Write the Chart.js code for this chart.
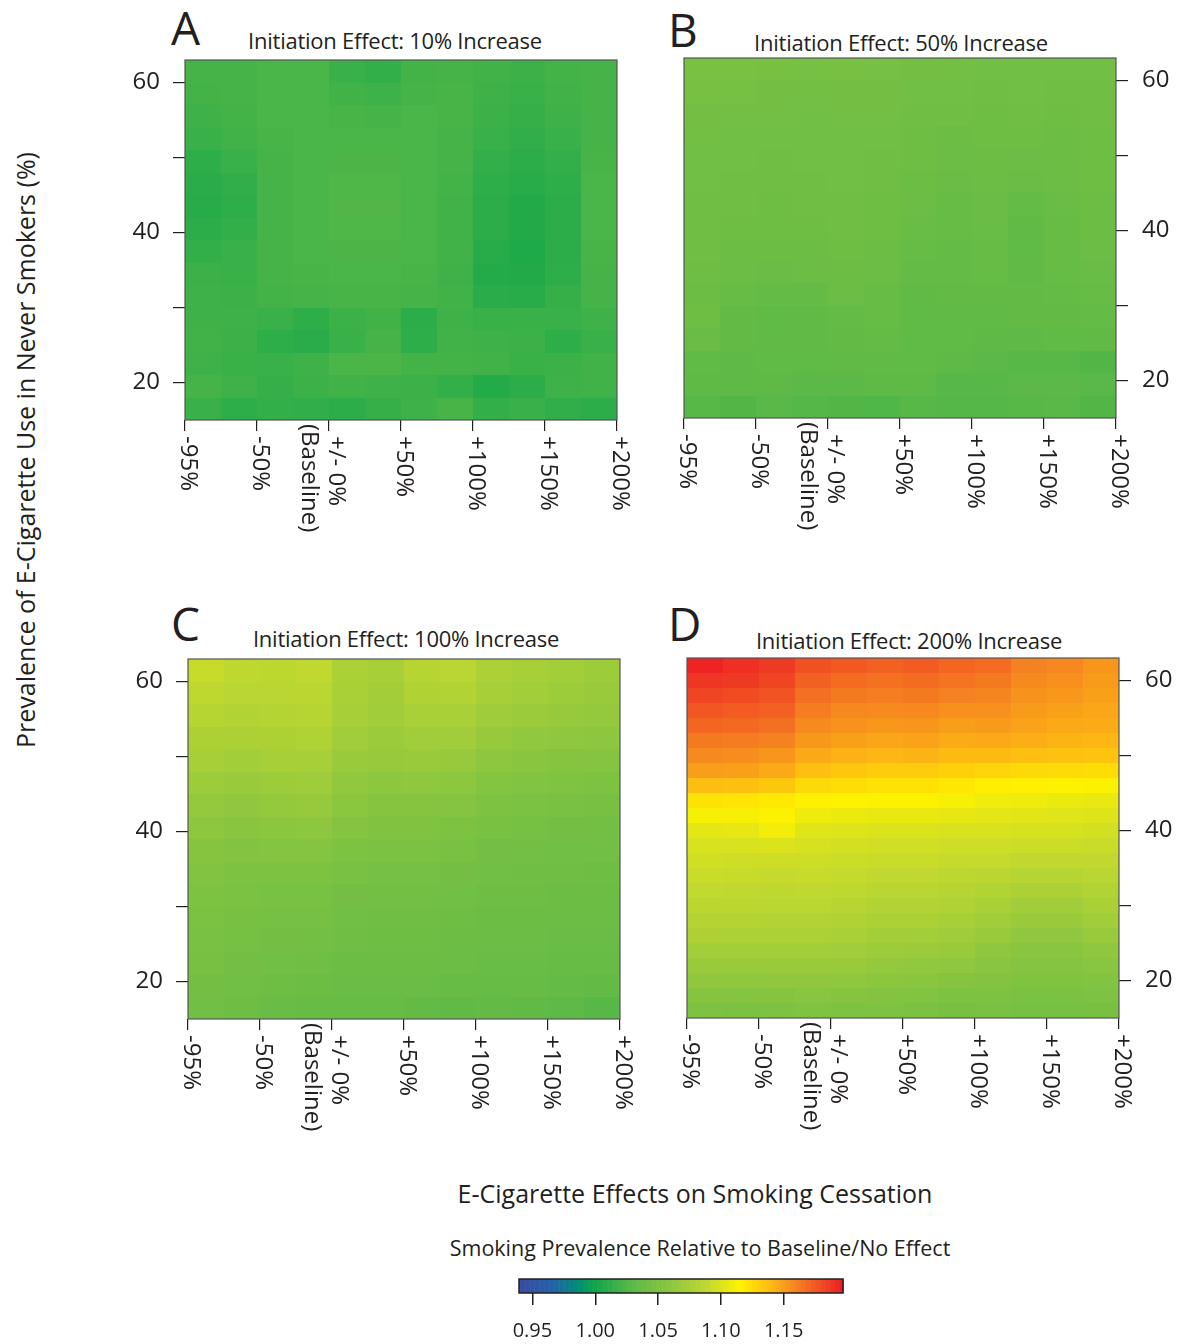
<!DOCTYPE html>
<html>
<head>
<meta charset="utf-8">
<script src="https://cdn.jsdelivr.net/npm/chart.js@4.4.0/dist/chart.umd.min.js"></script>
<style>
  body { margin: 0; background: #fff; }
  #page { position: relative; width: 1194px; height: 1344px; overflow: hidden; font-family: 'Open Sans', sans-serif; color: #231f20; }
  canvas { position: absolute; }
  .txt { position: absolute; white-space: nowrap; line-height: 1; }
  .letter { font-size: 46px; }
  .ptitle { font-size: 22px; letter-spacing: -0.25px; transform: translateX(-50%); }
</style>
</head>
<body>
<div id="page">
  <div class="txt" style="left:25px; top:450px; font-size:25px; transform: translate(-50%,-50%) rotate(-90deg);">Prevalence of E-Cigarette Use in Never Smokers (%)</div>

  <div class="txt letter" style="left:171px; top:4px;">A</div>
  <div class="txt letter" style="left:668px; top:6px;">B</div>
  <div class="txt letter" style="left:171px; top:600px;">C</div>
  <div class="txt letter" style="left:668px; top:600px;">D</div>

  <div class="txt ptitle" style="left:395px; top:29px;">Initiation Effect: 10% Increase</div>
  <div class="txt ptitle" style="left:901px; top:31px;">Initiation Effect: 50% Increase</div>
  <div class="txt ptitle" style="left:406px; top:627px;">Initiation Effect: 100% Increase</div>
  <div class="txt ptitle" style="left:909px; top:629px;">Initiation Effect: 200% Increase</div>

  <div class="txt" style="left:695px; top:1181px; font-size:25px; transform: translateX(-50%);">E-Cigarette Effects on Smoking Cessation</div>
  <div class="txt" style="left:700px; top:1237px; font-size:21.5px; transform: translateX(-50%);">Smoking Prevalence Relative to Baseline/No Effect</div>

  <canvas id="panelA" width="530" height="560" style="left:110px; top:0px;"></canvas>
  <canvas id="panelB" width="554" height="560" style="left:640px; top:0px;"></canvas>
  <canvas id="panelC" width="530" height="560" style="left:113px; top:600px;"></canvas>
  <canvas id="panelD" width="554" height="560" style="left:640px; top:600px;"></canvas>
  <canvas id="colorbar" width="400" height="94" style="left:480px; top:1250px;"></canvas>
</div>

<script>
// axis labels
const cessationLabels = ['-95%', '-50%', ['+/- 0%', '(Baseline)'], '+50%', '+100%', '+150%', '+200%'];
const prevalenceTicks = [20, 30, 40, 50, 60];
const prevalenceLabelled = [20, 40, 60];
const colorbarTicks = [0.95, 1.00, 1.05, 1.10, 1.15];

// cell centres (x = position on the cessation axis, y = prevalence %)
const cellX = [0.25, 0.75, 1.25, 1.75, 2.25, 2.75, 3.25, 3.75, 4.25, 4.75, 5.25, 5.75];
const cellY16 = [61.5, 58.5, 55.5, 52.5, 49.5, 46.5, 43.5, 40.5, 37.5, 34.5, 31.5, 28.5, 25.5, 22.5, 19.5, 16.5];
const cellY24 = [62, 60, 58, 56, 54, 52, 50, 48, 46, 44, 42, 40, 38, 36, 34, 32, 30, 28, 26, 24, 22, 20, 18, 16];

// relative smoking prevalence, rows top -> bottom
const effect10 = [
  [1.021, 1.021, 1.023, 1.023, 1.016, 1.014, 1.020, 1.021, 1.019, 1.017, 1.020, 1.021],
  [1.020, 1.021, 1.023, 1.023, 1.019, 1.018, 1.021, 1.022, 1.018, 1.016, 1.019, 1.021],
  [1.018, 1.020, 1.023, 1.023, 1.022, 1.021, 1.023, 1.022, 1.017, 1.015, 1.018, 1.021],
  [1.016, 1.019, 1.022, 1.023, 1.023, 1.023, 1.023, 1.021, 1.016, 1.013, 1.016, 1.021],
  [1.012, 1.016, 1.021, 1.023, 1.024, 1.024, 1.023, 1.021, 1.014, 1.011, 1.014, 1.022],
  [1.010, 1.013, 1.021, 1.023, 1.025, 1.025, 1.023, 1.020, 1.012, 1.009, 1.012, 1.023],
  [1.009, 1.012, 1.021, 1.023, 1.026, 1.026, 1.023, 1.019, 1.011, 1.007, 1.011, 1.023],
  [1.011, 1.014, 1.021, 1.023, 1.025, 1.025, 1.023, 1.019, 1.011, 1.007, 1.011, 1.023],
  [1.014, 1.016, 1.021, 1.023, 1.024, 1.024, 1.023, 1.019, 1.009, 1.006, 1.011, 1.022],
  [1.017, 1.016, 1.021, 1.022, 1.023, 1.023, 1.022, 1.018, 1.008, 1.007, 1.012, 1.021],
  [1.018, 1.017, 1.020, 1.021, 1.022, 1.022, 1.021, 1.019, 1.010, 1.009, 1.015, 1.021],
  [1.018, 1.018, 1.016, 1.012, 1.017, 1.019, 1.011, 1.018, 1.016, 1.016, 1.016, 1.018],
  [1.019, 1.017, 1.012, 1.010, 1.016, 1.021, 1.012, 1.019, 1.018, 1.017, 1.012, 1.016],
  [1.018, 1.016, 1.016, 1.018, 1.023, 1.024, 1.020, 1.020, 1.019, 1.016, 1.017, 1.019],
  [1.021, 1.018, 1.015, 1.017, 1.019, 1.018, 1.017, 1.014, 1.008, 1.011, 1.018, 1.019],
  [1.016, 1.012, 1.014, 1.013, 1.011, 1.015, 1.018, 1.022, 1.014, 1.016, 1.013, 1.011]
];

const effect50 = [
  [1.048, 1.048, 1.047, 1.046, 1.047, 1.046, 1.045, 1.044, 1.043, 1.043, 1.043, 1.043],
  [1.047, 1.046, 1.045, 1.044, 1.045, 1.045, 1.043, 1.043, 1.042, 1.043, 1.042, 1.042],
  [1.045, 1.044, 1.044, 1.043, 1.044, 1.044, 1.042, 1.042, 1.041, 1.042, 1.041, 1.042],
  [1.044, 1.043, 1.043, 1.043, 1.043, 1.043, 1.041, 1.040, 1.041, 1.041, 1.040, 1.041],
  [1.043, 1.043, 1.042, 1.043, 1.043, 1.042, 1.041, 1.039, 1.040, 1.039, 1.040, 1.041],
  [1.043, 1.042, 1.042, 1.042, 1.043, 1.042, 1.040, 1.038, 1.039, 1.038, 1.039, 1.041],
  [1.042, 1.042, 1.041, 1.042, 1.042, 1.041, 1.039, 1.037, 1.038, 1.035, 1.038, 1.040],
  [1.042, 1.041, 1.041, 1.041, 1.042, 1.041, 1.038, 1.036, 1.038, 1.033, 1.037, 1.040],
  [1.042, 1.040, 1.040, 1.040, 1.041, 1.040, 1.036, 1.035, 1.037, 1.032, 1.036, 1.039],
  [1.041, 1.039, 1.038, 1.039, 1.040, 1.039, 1.035, 1.035, 1.036, 1.033, 1.036, 1.038],
  [1.040, 1.037, 1.035, 1.035, 1.039, 1.037, 1.033, 1.034, 1.034, 1.034, 1.035, 1.037],
  [1.041, 1.034, 1.032, 1.033, 1.035, 1.036, 1.032, 1.033, 1.033, 1.034, 1.034, 1.035],
  [1.038, 1.034, 1.033, 1.033, 1.034, 1.035, 1.032, 1.032, 1.031, 1.031, 1.032, 1.033],
  [1.032, 1.031, 1.032, 1.032, 1.033, 1.033, 1.032, 1.031, 1.030, 1.028, 1.028, 1.026],
  [1.031, 1.031, 1.031, 1.030, 1.030, 1.031, 1.031, 1.028, 1.028, 1.030, 1.030, 1.029],
  [1.028, 1.026, 1.029, 1.027, 1.026, 1.025, 1.028, 1.027, 1.027, 1.028, 1.029, 1.026]
];

const effect100 = [
  [1.092, 1.088, 1.087, 1.089, 1.077, 1.074, 1.083, 1.085, 1.077, 1.074, 1.072, 1.069],
  [1.088, 1.085, 1.085, 1.086, 1.076, 1.073, 1.080, 1.081, 1.074, 1.072, 1.069, 1.067],
  [1.083, 1.081, 1.082, 1.083, 1.074, 1.071, 1.076, 1.076, 1.070, 1.068, 1.065, 1.064],
  [1.078, 1.077, 1.078, 1.079, 1.071, 1.068, 1.071, 1.071, 1.065, 1.063, 1.061, 1.060],
  [1.074, 1.072, 1.074, 1.074, 1.067, 1.065, 1.066, 1.065, 1.060, 1.058, 1.056, 1.055],
  [1.069, 1.067, 1.069, 1.070, 1.063, 1.060, 1.061, 1.060, 1.055, 1.053, 1.052, 1.051],
  [1.064, 1.062, 1.064, 1.065, 1.059, 1.056, 1.056, 1.055, 1.051, 1.049, 1.048, 1.047],
  [1.060, 1.058, 1.059, 1.060, 1.055, 1.052, 1.052, 1.051, 1.048, 1.046, 1.045, 1.044],
  [1.056, 1.054, 1.055, 1.055, 1.051, 1.049, 1.049, 1.048, 1.045, 1.044, 1.043, 1.043],
  [1.053, 1.051, 1.051, 1.051, 1.048, 1.046, 1.046, 1.045, 1.043, 1.042, 1.042, 1.041],
  [1.051, 1.049, 1.048, 1.048, 1.045, 1.044, 1.044, 1.043, 1.041, 1.041, 1.040, 1.040],
  [1.049, 1.047, 1.046, 1.046, 1.043, 1.042, 1.042, 1.041, 1.040, 1.040, 1.039, 1.039],
  [1.048, 1.046, 1.045, 1.044, 1.042, 1.041, 1.041, 1.040, 1.039, 1.039, 1.038, 1.038],
  [1.047, 1.045, 1.043, 1.042, 1.040, 1.040, 1.040, 1.039, 1.038, 1.038, 1.037, 1.036],
  [1.045, 1.043, 1.041, 1.040, 1.038, 1.038, 1.038, 1.037, 1.036, 1.036, 1.035, 1.034],
  [1.043, 1.041, 1.038, 1.037, 1.036, 1.036, 1.034, 1.033, 1.034, 1.033, 1.031, 1.028]
];

const effect200 = [
  [1.194, 1.190, 1.186, 1.178, 1.175, 1.172, 1.174, 1.170, 1.168, 1.160, 1.158, 1.153],
  [1.188, 1.186, 1.182, 1.172, 1.168, 1.166, 1.168, 1.165, 1.163, 1.157, 1.155, 1.151],
  [1.182, 1.180, 1.177, 1.167, 1.163, 1.161, 1.163, 1.160, 1.159, 1.154, 1.152, 1.149],
  [1.176, 1.174, 1.172, 1.162, 1.158, 1.157, 1.158, 1.155, 1.155, 1.151, 1.149, 1.147],
  [1.170, 1.169, 1.167, 1.157, 1.154, 1.152, 1.153, 1.150, 1.151, 1.148, 1.146, 1.145],
  [1.163, 1.162, 1.160, 1.152, 1.149, 1.147, 1.148, 1.145, 1.146, 1.144, 1.142, 1.141],
  [1.157, 1.156, 1.153, 1.146, 1.143, 1.141, 1.142, 1.139, 1.139, 1.137, 1.136, 1.135],
  [1.150, 1.149, 1.146, 1.137, 1.134, 1.132, 1.132, 1.130, 1.128, 1.126, 1.125, 1.124],
  [1.138, 1.137, 1.134, 1.126, 1.124, 1.122, 1.122, 1.120, 1.117, 1.116, 1.115, 1.114],
  [1.122, 1.121, 1.119, 1.116, 1.115, 1.114, 1.114, 1.112, 1.109, 1.108, 1.107, 1.106],
  [1.112, 1.112, 1.114, 1.108, 1.107, 1.106, 1.106, 1.105, 1.104, 1.103, 1.102, 1.101],
  [1.104, 1.105, 1.110, 1.102, 1.101, 1.100, 1.100, 1.099, 1.099, 1.098, 1.098, 1.097],
  [1.099, 1.099, 1.100, 1.098, 1.097, 1.096, 1.096, 1.095, 1.095, 1.094, 1.094, 1.093],
  [1.096, 1.095, 1.095, 1.095, 1.094, 1.093, 1.093, 1.091, 1.091, 1.089, 1.089, 1.089],
  [1.093, 1.092, 1.091, 1.092, 1.091, 1.089, 1.089, 1.087, 1.086, 1.083, 1.083, 1.085],
  [1.090, 1.089, 1.088, 1.089, 1.088, 1.085, 1.085, 1.083, 1.081, 1.077, 1.077, 1.081],
  [1.086, 1.086, 1.085, 1.085, 1.084, 1.081, 1.081, 1.079, 1.076, 1.071, 1.071, 1.076],
  [1.082, 1.082, 1.081, 1.081, 1.080, 1.077, 1.077, 1.074, 1.071, 1.066, 1.066, 1.071],
  [1.078, 1.077, 1.077, 1.077, 1.076, 1.073, 1.072, 1.070, 1.066, 1.062, 1.062, 1.066],
  [1.072, 1.072, 1.072, 1.072, 1.071, 1.069, 1.068, 1.066, 1.062, 1.058, 1.058, 1.061],
  [1.067, 1.066, 1.067, 1.067, 1.066, 1.064, 1.063, 1.061, 1.058, 1.055, 1.055, 1.057],
  [1.062, 1.061, 1.062, 1.062, 1.061, 1.059, 1.058, 1.056, 1.054, 1.052, 1.052, 1.053],
  [1.056, 1.055, 1.056, 1.057, 1.056, 1.054, 1.053, 1.051, 1.051, 1.049, 1.049, 1.050],
  [1.050, 1.049, 1.050, 1.052, 1.051, 1.050, 1.049, 1.047, 1.048, 1.046, 1.046, 1.047]
];

// colour scale of the legend bar
const palette = [
  [0.940, [59, 74, 160]],
  [0.965, [36, 97, 173]],
  [0.985, [0, 140, 120]],
  [1.000, [16, 166, 74]],
  [1.030, [92, 185, 71]],
  [1.060, [141, 198, 63]],
  [1.090, [194, 217, 47]],
  [1.115, [255, 242, 0]],
  [1.140, [253, 185, 19]],
  [1.160, [245, 130, 32]],
  [1.197, [237, 28, 36]]
];

function colorFor(v) {
  if (v <= palette[0][0]) return 'rgb(' + palette[0][1].join(',') + ')';
  for (let i = 1; i < palette.length; i++) {
    if (v <= palette[i][0]) {
      const [v0, c0] = palette[i - 1], [v1, c1] = palette[i];
      const t = (v - v0) / (v1 - v0);
      const c = c0.map((a, k) => Math.round(a + (c1[k] - a) * t));
      return 'rgb(' + c.join(',') + ')';
    }
  }
  return 'rgb(' + palette[palette.length - 1][1].join(',') + ')';
}

Chart.defaults.font.family = "'Open Sans', sans-serif";
Chart.defaults.color = '#231f20';

const ink = '#231f20';

// paints every data point as a coloured cell
const heatCells = {
  id: 'heatCells',
  beforeDatasetsDraw(chart) {
    const { ctx, chartArea, scales: { x, y } } = chart;
    ctx.save();
    ctx.beginPath();
    ctx.rect(chartArea.left, chartArea.top, chartArea.width, chartArea.height);
    ctx.clip();
    chart.data.datasets[0].data.forEach(p => {
      const x0 = Math.round(x.getPixelForValue(p.x - p.w / 2));
      const x1 = Math.round(x.getPixelForValue(p.x + p.w / 2));
      const y0 = Math.round(y.getPixelForValue(p.y + p.h / 2));
      const y1 = Math.round(y.getPixelForValue(p.y - p.h / 2));
      ctx.fillStyle = colorFor(p.v);
      ctx.fillRect(x0, y0, x1 - x0, y1 - y0);
    });
    ctx.restore();
  }
};

// frame round the plot and the rotated cessation labels
const frameAndLabels = {
  id: 'frameAndLabels',
  afterDraw(chart) {
    const { ctx, chartArea } = chart;
    const xs = chart.scales.x;
    ctx.save();
    ctx.strokeStyle = '#555555';
    ctx.lineWidth = 1.2;
    ctx.strokeRect(chartArea.left, chartArea.top, chartArea.width, chartArea.height);

    ctx.fillStyle = ink;
    ctx.font = "24px 'Open Sans', sans-serif";
    ctx.textAlign = 'left';
    ctx.textBaseline = 'middle';
    cessationLabels.forEach((lab, i) => {
      const px = xs.getPixelForValue(i);
      const lines = Array.isArray(lab) ? lab : [lab];
      lines.forEach((t, k) => {
        ctx.save();
        const dx = lines.length > 1 ? 7 - k * 27 : 3;
        const dy = lines.length > 1 ? 16 - k * 12 : 16;
        ctx.translate(px + dx, xs.top + dy);
        ctx.rotate(Math.PI / 2);
        ctx.fillText(t, 0, 0);
        ctx.restore();
      });
    });
    ctx.restore();
  }
};

function makePanel(id, grid, rows, side, pad) {
  const w = cellX[1] - cellX[0];
  const h = Math.abs(rows[0] - rows[1]);
  const cells = [];
  grid.forEach((row, r) => row.forEach((v, c) => cells.push({ x: cellX[c], y: rows[r], v: v, w: w, h: h })));

  return new Chart(document.getElementById(id), {
    type: 'scatter',
    data: { datasets: [{ data: cells, pointRadius: 0, pointHoverRadius: 0 }] },
    options: {
      responsive: false,
      animation: false,
      events: [],
      layout: { padding: pad },
      plugins: { legend: { display: false }, tooltip: { enabled: false } },
      scales: {
        x: {
          type: 'linear', min: 0, max: cessationLabels.length - 1,
          afterBuildTicks: s => { s.ticks = cessationLabels.map((_, i) => ({ value: i })); },
          afterFit: s => { s.height = 100; },
          ticks: { display: false },
          grid: { drawOnChartArea: false, drawTicks: true, tickLength: 11, color: ink, tickColor: ink, lineWidth: 1.2 },
          border: { display: false }
        },
        y: {
          type: 'linear', position: side, min: 15, max: 63,
          afterBuildTicks: s => { s.ticks = prevalenceTicks.map(v => ({ value: v })); },
          afterFit: s => { s.width = 75; },
          ticks: {
            callback: v => prevalenceLabelled.includes(v) ? String(v) : '',
            font: { size: 24 }, color: ink, padding: side === 'left' ? 13 : 14
          },
          grid: { drawOnChartArea: false, drawTicks: true, tickLength: 12, color: ink, tickColor: ink, lineWidth: 1.2 },
          border: { display: false }
        }
      }
    },
    plugins: [heatCells, frameAndLabels]
  });
}

makePanel('panelA', effect10, cellY16, 'left', { left: 0, right: 23, top: 60, bottom: 40 });
makePanel('panelB', effect50, cellY16, 'right', { left: 44, right: 3, top: 58, bottom: 42 });
makePanel('panelC', effect100, cellY16, 'left', { left: 0, right: 23, top: 59, bottom: 41 });
makePanel('panelD', effect200, cellY24, 'right', { left: 47, right: 0, top: 58, bottom: 42 });

// legend bar
const colorRamp = {
  id: 'colorRamp',
  beforeDatasetsDraw(chart) {
    const { ctx, chartArea } = chart;
    const xs = chart.scales.x;
    ctx.save();
    for (let v = xs.min; v < xs.max; v += 0.001) {
      const x0 = xs.getPixelForValue(v);
      const x1 = xs.getPixelForValue(Math.min(v + 0.001, xs.max));
      ctx.fillStyle = colorFor(v + 0.0005);
      ctx.fillRect(x0, chartArea.top, x1 - x0 + 0.6, chartArea.height);
    }
    ctx.strokeStyle = ink;
    ctx.lineWidth = 1.5;
    ctx.strokeRect(chartArea.left, chartArea.top, chartArea.width, chartArea.height);
    ctx.restore();
  }
};

new Chart(document.getElementById('colorbar'), {
  type: 'scatter',
  data: { datasets: [{ data: [], pointRadius: 0 }] },
  options: {
    responsive: false,
    animation: false,
    events: [],
    layout: { padding: { left: 39, right: 37, top: 29, bottom: 6 } },
    plugins: { legend: { display: false }, tooltip: { enabled: false } },
    scales: {
      x: {
        type: 'linear', min: 0.9393, max: 1.1972,
        afterBuildTicks: s => { s.ticks = colorbarTicks.map(v => ({ value: v })); },
        afterFit: s => { s.height = 45; },
        ticks: { callback: v => v.toFixed(2), font: { size: 20 }, color: ink, padding: 14, maxRotation: 0, autoSkip: false },
        grid: { drawOnChartArea: false, drawTicks: true, tickLength: 12, color: ink, tickColor: ink, lineWidth: 1.5 },
        border: { display: false }
      },
      y: { display: false, min: 0, max: 1 }
    }
  },
  plugins: [colorRamp]
});
</script>
</body>
</html>
